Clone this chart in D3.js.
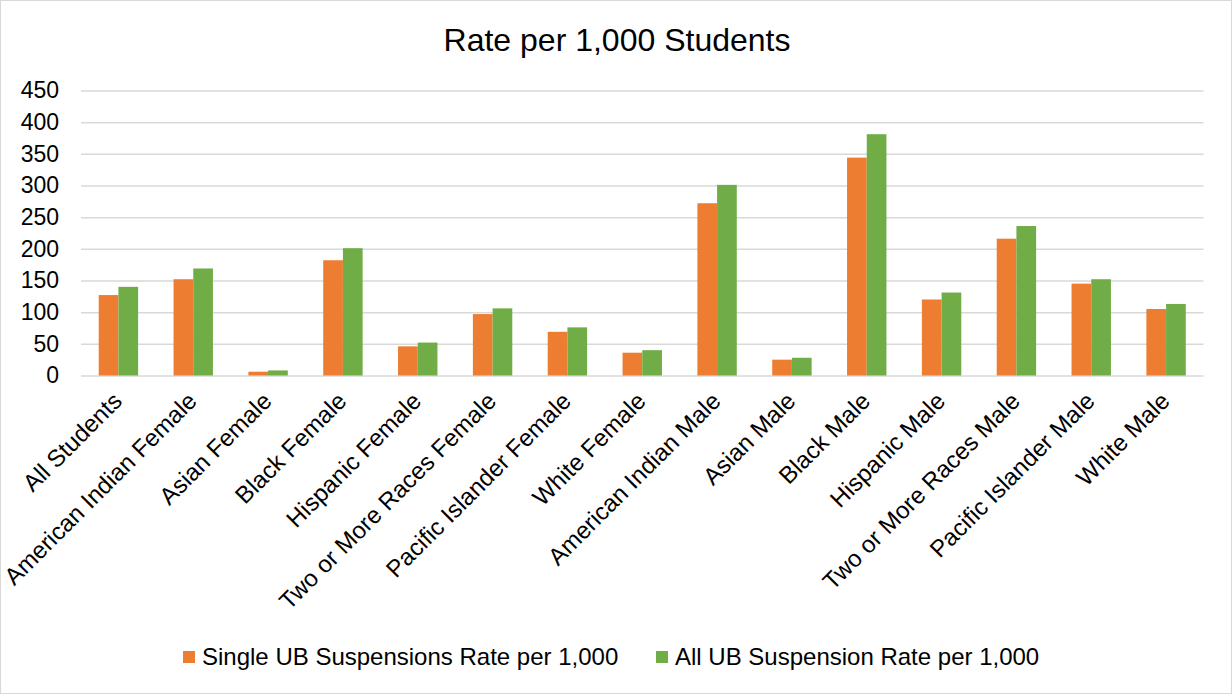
<!DOCTYPE html>
<html>
<head>
<meta charset="utf-8">
<script src="https://cdn.jsdelivr.net/npm/d3@7"></script>
<style>
  html, body { margin: 0; padding: 0; background: #fff; }
  svg { display: block; font-family: "Liberation Sans", Arial, sans-serif; }
</style>
</head>
<body>
<svg id="chart" width="1232" height="694"></svg>
<script>
const categories = [
  "All Students", "American Indian Female", "Asian Female", "Black Female",
  "Hispanic Female", "Two or More Races Female", "Pacific Islander Female",
  "White Female", "American Indian Male", "Asian Male", "Black Male",
  "Hispanic Male", "Two or More Races Male", "Pacific Islander Male", "White Male"
];
const seriesNames = ["Single UB Suspensions Rate per 1,000", "All UB Suspension Rate per 1,000"];
const singleRate = [127, 152, 6, 182, 46, 97, 69, 36, 272, 25, 344, 120, 216, 145, 105];
const allRate    = [140, 169, 8, 201, 52, 106, 76, 40, 301, 28, 381, 131, 236, 152, 113];
const yTicks = [0, 50, 100, 150, 200, 250, 300, 350, 400, 450];
const colors = ["#ED7D31", "#70AD47"];
const title = "Rate per 1,000 Students";

const svg = d3.select("#chart");
const W = 1232, H = 694;
const plot = { left: 81, right: 1203.5, top: 90.5, bottom: 375.5 };
const FONT = "'Liberation Sans', Arial, sans-serif";

svg.append("rect").attr("x", 0.5).attr("y", 0.5).attr("width", W - 1).attr("height", H - 1)
  .attr("fill", "#fff").attr("stroke", "#d9d9d9").attr("stroke-width", 1);

const y = d3.scaleLinear().domain([0, 450]).range([plot.bottom, plot.top]);
const gapFrac = 0.4735;
const x0 = d3.scaleBand().domain(categories).range([plot.left, plot.right])
  .paddingInner(gapFrac).paddingOuter(gapFrac / 2);
const x1 = d3.scaleBand().domain([0, 1]).range([0, x0.bandwidth()]);

// gridlines + y labels
const yAxis = d3.axisLeft(y).tickValues(yTicks).tickSize(-(plot.right - plot.left)).tickFormat(d => d);
const gy = svg.append("g").attr("transform", `translate(${plot.left},0)`).call(yAxis);
gy.select(".domain").remove();
gy.selectAll(".tick line").attr("stroke", "#d9d9d9").attr("stroke-width", 1.5);
gy.selectAll(".tick text").attr("x", -22).attr("fill", "#000")
  .style("font-size", "23px").style("font-family", FONT);

// bars
const data = categories.map((c, i) => ({ c, vals: [singleRate[i], allRate[i]] }));
const groups = svg.append("g").selectAll("g").data(data).join("g")
  .attr("transform", d => `translate(${x0(d.c)},0)`);
groups.selectAll("rect").data(d => d.vals.map((v, k) => ({ v, k }))).join("rect")
  .attr("x", d => x1(d.k))
  .attr("width", x1.bandwidth())
  .attr("y", d => y(d.v))
  .attr("height", d => y(0) - y(d.v))
  .attr("fill", d => colors[d.k]);

// x axis labels
const xAxis = d3.axisBottom(x0).tickSize(0).tickPadding(0);
const gx = svg.append("g").attr("transform", `translate(0,${plot.bottom})`).call(xAxis);
gx.select(".domain").remove();
gx.selectAll(".tick text")
  .attr("fill", "#000")
  .style("font-size", "24px").style("font-family", FONT)
  .attr("text-anchor", "end")
  .attr("transform", "translate(5,27) rotate(-45)")
  .attr("dy", "0");

// title
svg.append("text").attr("x", 617).attr("y", 51).attr("text-anchor", "middle")
  .attr("fill", "#000").style("font-size", "32px").text(title);

// legend
const legendItems = [
  { name: seriesNames[0], color: colors[0], x: 183 },
  { name: seriesNames[1], color: colors[1], x: 656 }
];
const lg = svg.append("g").selectAll("g").data(legendItems).join("g")
  .attr("transform", d => `translate(${d.x},651)`);
lg.append("rect").attr("width", 12).attr("height", 12).attr("fill", d => d.color);
lg.append("text").attr("x", 19).attr("y", 14).attr("fill", "#000")
  .style("font-size", "24px").text(d => d.name);
</script>
</body>
</html>
